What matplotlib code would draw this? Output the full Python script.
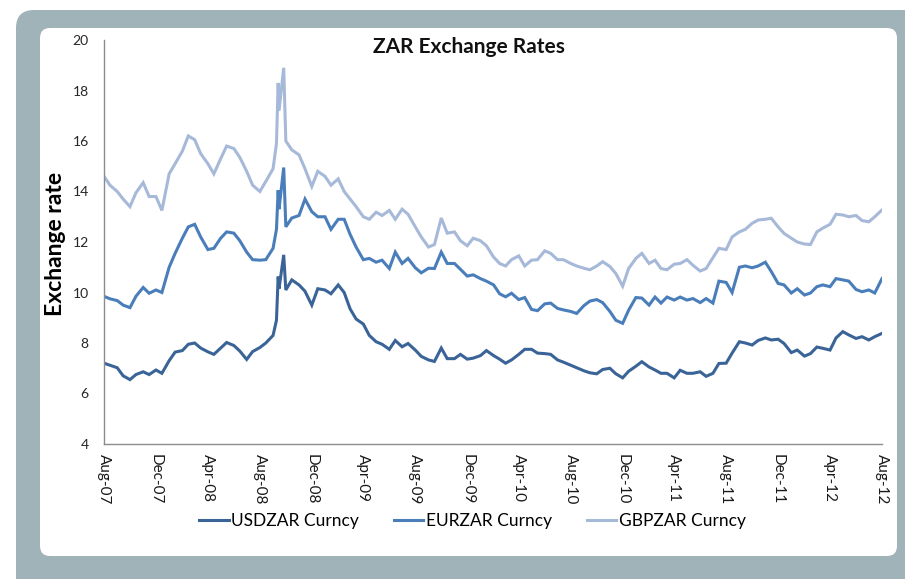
import numpy as np
import pandas as pd
import matplotlib
matplotlib.use("Agg")
import matplotlib.pyplot as plt
import matplotlib.dates as mdates
from matplotlib.patches import FancyBboxPatch

plt.rcParams["font.family"] = ["Lato", "DejaVu Sans"]

# semi-monthly readings, Aug-07 .. Aug-12 (121 points)
grid_dates = pd.date_range("2007-08-01", "2012-08-01", freq="SMS")

usd = [
    7.20, 7.12, 7.02, 6.70, 6.55, 6.75, 6.86, 6.75, 6.93, 6.80,
    7.30, 7.64, 7.70, 7.95, 8.00, 7.80, 7.65, 7.55, 7.80, 8.02,
    7.90, 7.68, 7.35, 7.66, 7.82, 8.00, 8.30, 10.15, 10.10, 10.50,
    10.30, 10.05, 9.50, 10.15, 10.10, 9.95, 10.30, 10.00, 9.35, 8.95,
    8.75, 8.30, 8.05, 7.95, 7.75, 8.10, 7.85, 7.98, 7.72, 7.47,
    7.33, 7.27, 7.80, 7.38, 7.38, 7.55, 7.36, 7.40, 7.50, 7.70,
    7.50, 7.36, 7.20, 7.33, 7.55, 7.75, 7.75, 7.60, 7.58, 7.55,
    7.33, 7.24, 7.12, 7.02, 6.90, 6.82, 6.78, 6.95, 7.00, 6.78,
    6.62, 6.88, 7.08, 7.26, 7.05, 6.93, 6.80, 6.80, 6.62, 6.92,
    6.80, 6.80, 6.86, 6.68, 6.80, 7.19, 7.20, 7.60, 8.05, 8.00,
    7.92, 8.10, 8.20, 8.12, 8.15, 7.98, 7.62, 7.72, 7.48, 7.58,
    7.84, 7.79, 7.72, 8.20, 8.45, 8.32, 8.18, 8.25, 8.12, 8.25,
    8.38,
]

eur = [
    9.85, 9.75, 9.68, 9.50, 9.40, 9.85, 10.20, 9.97, 10.10, 10.00,
    11.00, 11.55, 12.15, 12.60, 12.70, 12.20, 11.70, 11.75, 12.15, 12.40,
    12.35, 12.05, 11.60, 11.30, 11.28, 11.30, 11.75, 13.30, 12.60, 12.95,
    13.05, 13.70, 13.20, 13.00, 13.00, 12.50, 12.90, 12.90, 12.30, 11.80,
    11.30, 11.35, 11.20, 11.28, 10.95, 11.60, 11.15, 11.35, 10.98, 10.78,
    10.96, 10.95, 11.60, 11.15, 11.15, 10.92, 10.65, 10.70, 10.55, 10.45,
    10.30, 9.95, 9.83, 9.97, 9.72, 9.80, 9.33, 9.28, 9.55, 9.58,
    9.37, 9.31, 9.25, 9.17, 9.48, 9.66, 9.72, 9.60, 9.25, 8.90,
    8.78, 9.30, 9.80, 9.78, 9.50, 9.82, 9.58, 9.82, 9.70, 9.82,
    9.70, 9.76, 9.60, 9.76, 9.58, 10.45, 10.40, 10.00, 11.00, 11.05,
    10.98, 11.05, 11.20, 10.83, 10.36, 10.30, 9.98, 10.15, 9.90, 9.98,
    10.23, 10.30, 10.23, 10.55, 10.50, 10.45, 10.12, 10.03, 10.10, 9.98,
    10.55,
]

gbp = [
    14.60, 14.25, 14.00, 13.70, 13.40, 13.95, 14.35, 13.80, 13.80, 13.25,
    14.70, 15.10, 15.60, 16.20, 16.05, 15.50, 15.10, 14.70, 15.30, 15.80,
    15.70, 15.35, 14.80, 14.25, 14.00, 14.40, 14.90, 17.20, 16.00, 15.65,
    15.45, 14.90, 14.20, 14.80, 14.60, 14.25, 14.50, 14.00, 13.70, 13.40,
    13.00, 12.90, 13.18, 13.05, 13.25, 12.90, 13.30, 13.10, 12.60, 12.20,
    11.80, 11.90, 12.95, 12.35, 12.40, 12.05, 11.85, 12.15, 12.05, 11.85,
    11.40, 11.15, 11.05, 11.30, 11.45, 11.05, 11.28, 11.30, 11.65, 11.55,
    11.30, 11.30, 11.15, 11.05, 10.96, 10.90, 11.05, 11.22, 11.03, 10.75,
    10.25, 10.95, 11.35, 11.55, 11.15, 11.28, 10.95, 10.90, 11.12, 11.15,
    11.30, 11.08, 10.85, 10.95, 11.38, 11.75, 11.70, 12.20, 12.40, 12.50,
    12.74, 12.87, 12.90, 12.94, 12.60, 12.34, 12.15, 12.00, 11.92, 11.90,
    12.40, 12.55, 12.70, 13.10, 13.07, 13.00, 13.05, 12.85, 12.80, 13.00,
    13.27,
]

# extra readings around the late-2008 spike
spike_dates = pd.to_datetime(["2008-09-09", "2008-09-13", "2008-09-26"])
spike_usd = [8.90, 10.63, 11.49]
spike_eur = [12.50, 14.05, 14.95]
spike_gbp = [15.90, 18.30, 18.90]

series_names = ["USDZAR Curncy", "EURZAR Curncy", "GBPZAR Curncy"]
series_colors = ["#3a6497", "#4a7ebb", "#a7b9d8"]

grid = pd.DataFrame({"usd": usd, "eur": eur, "gbp": gbp}, index=grid_dates)
extra = pd.DataFrame({"usd": spike_usd, "eur": spike_eur, "gbp": spike_gbp}, index=spike_dates)
df = pd.concat([grid, extra]).sort_index()

fig = plt.figure(figsize=(9.05, 5.79), dpi=100)
fig.patch.set_facecolor("white")

# grey rounded frame with the white card inside (pixel coords)
fig.patches.append(FancyBboxPatch((16, -60), 960, 629,
                                  boxstyle="round,pad=0,rounding_size=18",
                                  transform=None, facecolor="#9fb3b9",
                                  edgecolor="none", zorder=-10))
fig.patches.append(FancyBboxPatch((40, 23), 857, 528,
                                  boxstyle="round,pad=0,rounding_size=10",
                                  transform=None, facecolor="white",
                                  edgecolor="none", zorder=-9))

ax = fig.add_axes([104 / 905, 1 - 444 / 579, 778 / 905, 404 / 579])
ax.set_facecolor("none")

for col, name, color in zip(["usd", "eur", "gbp"], series_names, series_colors):
    ax.plot(df.index, df[col], color=color, linewidth=2.2, label=name,
            solid_joinstyle="miter")

ax.set_xlim(pd.Timestamp("2007-08-01"), pd.Timestamp("2012-08-01"))
ax.set_ylim(4, 20)
ax.set_yticks(np.arange(4, 21, 2))
ax.xaxis.set_major_locator(mdates.MonthLocator(bymonth=[4, 8, 12]))
ax.xaxis.set_major_formatter(mdates.DateFormatter("%b-%y"))

for side in ["top", "right"]:
    ax.spines[side].set_visible(False)
for side in ["left", "bottom"]:
    ax.spines[side].set_color("#8c8c8c")
    ax.spines[side].set_linewidth(1.0)

ax.tick_params(axis="y", length=0, pad=11, labelsize=10, labelcolor="#262626")
ax.tick_params(axis="x", length=0, pad=7, labelsize=11, labelcolor="#1a1a1a",
               rotation=270)
for lbl in ax.get_xticklabels():
    lbl.set_ha("center")
    lbl.set_va("top")

ax.set_ylabel("Exchange rate", fontsize=16.5, fontweight="bold")
ax.yaxis.set_label_coords(-0.049, 0.496)

fig.text(469 / 905, 1 - 47 / 579, "ZAR Exchange Rates", ha="center", va="center",
         fontsize=15, fontweight="bold", color="#111111")

fig.legend(loc="center", bbox_to_anchor=(0.522, 1 - 521 / 579), ncol=3,
           frameon=False, fontsize=12.5, handlelength=1.7, handletextpad=0.15,
           columnspacing=2.0)

fig.savefig("out.png", dpi=100)
